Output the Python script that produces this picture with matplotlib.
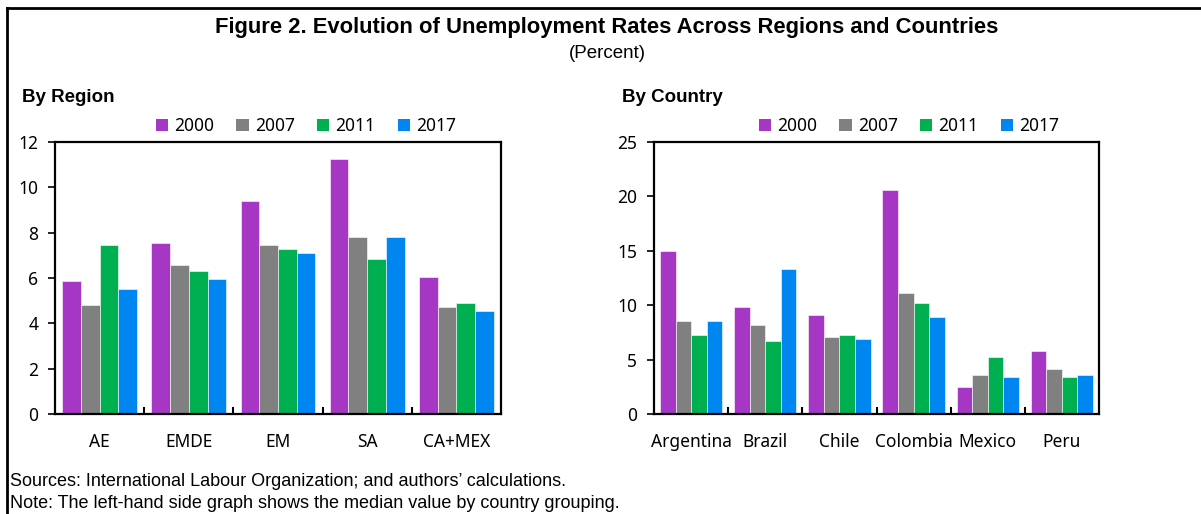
import numpy as np
import matplotlib
matplotlib.use("Agg")
import matplotlib.pyplot as plt
from matplotlib.lines import Line2D
from matplotlib.patches import Patch
from matplotlib.ticker import FixedLocator

years = ["2000", "2007", "2011", "2017"]
colors = ["#A637C4", "#808080", "#00B050", "#0086F0"]

regions = ["AE", "EMDE", "EM", "SA", "CA+MEX"]
region_2000 = [5.87, 7.54, 9.40, 11.25, 6.04]
region_2007 = [4.81, 6.57, 7.45, 7.81, 4.72]
region_2011 = [7.45, 6.31, 7.28, 6.84, 4.90]
region_2017 = [5.51, 5.96, 7.10, 7.81, 4.54]

countries = ["Argentina", "Brazil", "Chile", "Colombia", "Mexico", "Peru"]
country_2000 = [14.99, 9.83, 9.09, 20.55, 2.46, 5.77]
country_2007 = [8.54, 8.17, 7.06, 11.12, 3.56, 4.12]
country_2011 = [7.25, 6.70, 7.25, 10.20, 5.22, 3.38]
country_2017 = [8.54, 13.33, 6.88, 8.91, 3.38, 3.56]

narrow = ["Liberation Sans Narrow", "Liberation Sans", "DejaVu Sans"]
tickfont = ["Noto Sans", "DejaVu Sans"]

W, H = 1201, 514
fig = plt.figure(figsize=(W / 100, H / 100), dpi=100)


def px(x, y):
    return x / W, 1 - y / H


def draw_panel(rect, cats, series, ymax, ystep, legend_x):
    ax = fig.add_axes(rect)
    x = np.arange(len(cats))
    bw = 0.21
    for i, vals in enumerate(series):
        ax.bar(x + (i - 1.5) * bw, vals, width=bw, color=colors[i],
               edgecolor="white", linewidth=0.4)
    ax.set_xlim(-0.5, len(cats) - 0.5)
    ax.set_ylim(0, ymax)
    ax.set_yticks(np.arange(0, ymax + 0.1, ystep))
    ax.set_xticks(x)
    ax.set_xticklabels(cats, family=tickfont, fontsize=12.5)
    for lab in ax.get_yticklabels():
        lab.set_family(tickfont)
        lab.set_fontsize(12.5)
    ax.tick_params(axis="x", length=0, pad=14)
    ax.tick_params(axis="y", direction="out", length=5, width=1.2, pad=7)
    ax.xaxis.set_minor_locator(FixedLocator(np.arange(0.5, len(cats) - 1, 1)))
    ax.tick_params(axis="x", which="minor", direction="in", length=5, width=1.5)
    for s in ax.spines.values():
        s.set_linewidth(1.6)
    handles = [Patch(facecolor=c, edgecolor="none") for c in colors]
    fig.legend(handles, years, loc="center", bbox_to_anchor=px(legend_x, 126),
               ncol=4, frameon=False, prop={"family": tickfont, "size": 12.5},
               handlelength=0.7, handleheight=0.75, handletextpad=0.35,
               columnspacing=1.3, borderaxespad=0, borderpad=0)
    return ax


left_rect = [55 / W, 100 / H, 446 / W, 272 / H]
right_rect = [654 / W, 100 / H, 445 / W, 272 / H]

draw_panel(left_rect, regions,
           [region_2000, region_2007, region_2011, region_2017], 12, 2, 306)
draw_panel(right_rect, countries,
           [country_2000, country_2007, country_2011, country_2017], 25, 5, 909)

# titles and notes
fig.text(*px(607, 27), "Figure 2. Evolution of Unemployment Rates Across Regions and Countries",
         ha="center", va="center", fontsize=15.8, fontweight="bold", family=narrow)
fig.text(*px(607, 53), "(Percent)", ha="center", va="center", fontsize=13.5, family=narrow)
fig.text(*px(22, 97), "By Region", ha="left", va="center", fontsize=13.5,
         fontweight="bold", family=narrow)
fig.text(*px(622, 97), "By Country", ha="left", va="center", fontsize=13.5,
         fontweight="bold", family=narrow)
fig.text(*px(10, 482), "Sources: International Labour Organization; and authors\u2019 calculations.",
         ha="left", va="center", fontsize=13, family=narrow)
fig.text(*px(10, 503), "Note: The left-hand side graph shows the median value by country grouping.",
         ha="left", va="center", fontsize=13, family=narrow)

# outer frame (top and left)
fig.add_artist(Line2D([7 / W, 1], [1 - 7.5 / H, 1 - 7.5 / H], color="black",
                      linewidth=2, transform=fig.transFigure))
fig.add_artist(Line2D([7 / W, 7 / W], [0, 1 - 7.5 / H], color="black",
                      linewidth=2, transform=fig.transFigure))

fig.savefig("out.png", dpi=100)
